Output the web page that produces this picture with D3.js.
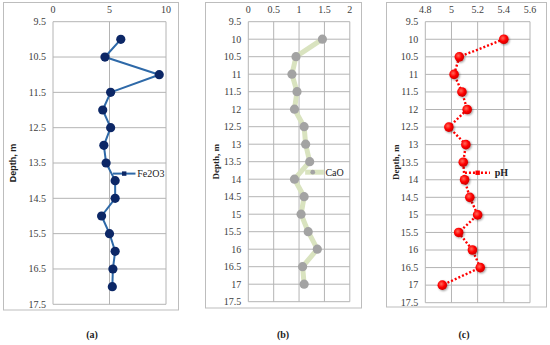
<!DOCTYPE html>
<html>
<head>
<meta charset="utf-8">
<script src="https://cdn.jsdelivr.net/npm/d3@7"></script>
<style>
  body { margin: 0; background: #fff; }
  svg { display: block; }
</style>
</head>
<body>
<svg id="chart"></svg>
<script>
const depths = [10, 10.5, 11, 11.5, 12, 12.5, 13, 13.5, 14, 14.5, 15, 15.5, 16, 16.5, 17];
const fe2o3 = [6.0, 4.6, 9.4, 5.1, 4.4, 5.1, 4.5, 4.7, 5.5, 5.5, 4.3, 5.0, 5.5, 5.3, 5.25];
const cao = [1.46, 0.94, 0.86, 0.96, 0.91, 1.10, 1.13, 1.21, 0.91, 1.10, 1.04, 1.18, 1.36, 1.07, 1.10];
const ph = [5.40, 5.06, 5.02, 5.08, 5.12, 4.98, 5.11, 5.09, 5.10, 5.14, 5.20, 5.055, 5.16, 5.22, 4.93];

const xTicksA = [0, 5, 10];
const xTicksB = [0, 0.5, 1, 1.5, 2];
const xTicksC = [4.8, 5, 5.2, 5.4, 5.6];
const yTicksA = [9.5, 10.5, 11.5, 12.5, 13.5, 14.5, 15.5, 16.5, 17.5];
const yTicksBC = [9.5, 10, 10.5, 11, 11.5, 12, 12.5, 13, 13.5, 14, 14.5, 15, 15.5, 16, 16.5, 17, 17.5];
const captions = ["(a)", "(b)", "(c)"];
const seriesNames = ["Fe2O3", "CaO", "pH"];

const width = 550, height = 345;
const svg = d3.select("#chart").attr("width", width).attr("height", height);
const serif = "'Liberation Serif', 'DejaVu Serif', serif";

const defs = svg.append("defs");
const grad = defs.append("radialGradient").attr("id", "redball")
  .attr("cx", "40%").attr("cy", "38%").attr("r", "65%");
grad.append("stop").attr("offset", "0%").attr("stop-color", "#ff6a5a");
grad.append("stop").attr("offset", "55%").attr("stop-color", "#ff0000");
grad.append("stop").attr("offset", "100%").attr("stop-color", "#c80000");
const blur = defs.append("filter").attr("id", "shadow").attr("x", "-50%").attr("y", "-50%").attr("width", "200%").attr("height", "200%");
blur.append("feGaussianBlur").attr("in", "SourceAlpha").attr("stdDeviation", 1);
blur.append("feOffset").attr("dx", 0.5).attr("dy", 0.8).attr("result", "off");
blur.append("feComponentTransfer").append("feFuncA").attr("type", "linear").attr("slope", 0.4);
const merge = blur.append("feMerge");
merge.append("feMergeNode");
merge.append("feMergeNode").attr("in", "SourceGraphic");

const panels = [
  {
    frame: [3.5, 2.5, 175, 307.5], plot: [53, 166, 21.7, 304.3],
    values: fe2o3, xDomain: [0, 10], xTicks: xTicksA, yTicks: yTicksA,
    labelX: 13, labelFont: "'Liberation Sans', 'DejaVu Sans', sans-serif",
    line: { stroke: "#2e69a8", width: 2, dash: null },
    marker: { fill: "#0c2766", r: 4.6 },
    legend: { x0: 5.3, x1: 7.3, xm: 6.3, xt: 7.45, y: 13.8, bold: false, square: true },
    caption: 92
  },
  {
    frame: [205.5, 2.5, 156, 305.5], plot: [248.3, 349.8, 21.7, 301.7],
    values: cao, xDomain: [0, 2], xTicks: xTicksB, yTicks: yTicksBC,
    labelX: 216, labelFont: serif,
    line: { stroke: "#d9e3bf", width: 5, dash: null },
    marker: { fill: "#a3a3a3", r: 4.6 },
    legend: { x0: 1.12, x1: 1.49, xm: 1.27, xt: 1.52, y: 13.8, bold: false, square: false },
    caption: 283
  },
  {
    frame: [386.5, 2.5, 160, 304.5], plot: [425.3, 530, 21.7, 302.7],
    values: ph, xDomain: [4.8, 5.6], xTicks: xTicksC, yTicks: yTicksBC,
    labelX: 396, labelFont: serif,
    line: { stroke: "#ff0000", width: 2.4, dash: "2,2" },
    marker: { fill: "url(#redball)", r: 4.8 },
    legend: { x0: 5.103, x1: 5.294, xm: 5.2, xt: 5.33, y: 13.8, bold: true, square: true },
    caption: 464
  }
];

panels.forEach((p, i) => {
  const g = svg.append("g");
  const [fx, fy, fw, fh] = p.frame;
  const [l, r, t, b] = p.plot;

  g.append("rect").attr("x", fx).attr("y", fy).attr("width", fw).attr("height", fh)
    .attr("fill", "none").attr("stroke", "#bdbdbd").attr("stroke-width", 1);

  const x = d3.scaleLinear().domain(p.xDomain).range([l, r]);
  const y = d3.scaleLinear().domain([9.5, 17.5]).range([t, b]);

  // grid
  g.append("g").selectAll("line").data(p.yTicks).join("line")
    .attr("x1", l).attr("x2", r)
    .attr("y1", d => y(d)).attr("y2", d => y(d))
    .attr("stroke", "#b4b4b4").attr("stroke-width", 1);
  g.append("g").selectAll("line").data(p.xTicks).join("line")
    .attr("x1", d => x(d)).attr("x2", d => x(d))
    .attr("y1", t).attr("y2", b)
    .attr("stroke", "#b4b4b4").attr("stroke-width", 1);

  // top axis labels
  g.append("g").selectAll("text").data(p.xTicks).join("text")
    .attr("x", d => x(d)).attr("y", 12.5)
    .attr("text-anchor", "middle")
    .style("font-family", serif).style("font-size", "10px").attr("fill", "#404040")
    .text(d => d);

  // left axis labels
  g.append("g").selectAll("text").data(p.yTicks).join("text")
    .attr("x", l - 7).attr("y", d => y(d) + 3.3)
    .attr("text-anchor", "end")
    .style("font-family", serif).style("font-size", "10px").attr("fill", "#404040")
    .text(d => d);

  g.append("text")
    .attr("transform", `translate(${p.labelX + 3},${(t + b) / 2}) rotate(-90)`)
    .attr("text-anchor", "middle")
    .style("font-family", p.labelFont).style("font-size", "9px").style("font-weight", "bold")
    .attr("fill", "#222")
    .text("Depth, m");

  // series
  const pts = depths.map((d, k) => [p.values[k], d]);
  g.append("path").datum(pts)
    .attr("d", d3.line().x(d => x(d[0])).y(d => y(d[1])))
    .attr("fill", "none").attr("stroke", p.line.stroke)
    .attr("stroke-width", p.line.width)
    .attr("stroke-dasharray", p.line.dash)
    .attr("stroke-linejoin", "round");

  g.append("g").selectAll("circle").data(pts).join("circle")
    .attr("cx", d => x(d[0])).attr("cy", d => y(d[1]))
    .attr("r", p.marker.r).attr("fill", p.marker.fill)
    .attr("filter", i === 2 ? "url(#shadow)" : null);

  // legend key
  const lg = p.legend;
  g.append("line")
    .attr("x1", x(lg.x0)).attr("x2", x(lg.x1))
    .attr("y1", y(lg.y)).attr("y2", y(lg.y))
    .attr("stroke", p.line.stroke).attr("stroke-width", p.line.width)
    .attr("stroke-dasharray", p.line.dash);
  if (lg.square) {
    g.append("rect")
      .attr("x", x(lg.xm) - 2.2).attr("y", y(lg.y) - 2.2)
      .attr("width", 4.4).attr("height", 4.4)
      .attr("fill", i === 2 ? "#ff0000" : p.marker.fill);
  } else {
    g.append("circle").attr("cx", x(lg.xm)).attr("cy", y(lg.y)).attr("r", 2.4)
      .attr("fill", p.marker.fill);
  }
  g.append("text")
    .attr("x", x(lg.xt)).attr("y", y(lg.y) + 3.3)
    .style("font-family", serif).style("font-size", "10px")
    .style("font-weight", lg.bold ? "bold" : "normal")
    .attr("fill", "#222")
    .text(seriesNames[i]);

  // caption
  svg.append("text")
    .attr("x", p.caption).attr("y", 338)
    .attr("text-anchor", "middle")
    .style("font-family", serif).style("font-size", "10px").style("font-weight", "bold")
    .attr("fill", "#222")
    .text(captions[i]);
});
</script>
</body>
</html>
